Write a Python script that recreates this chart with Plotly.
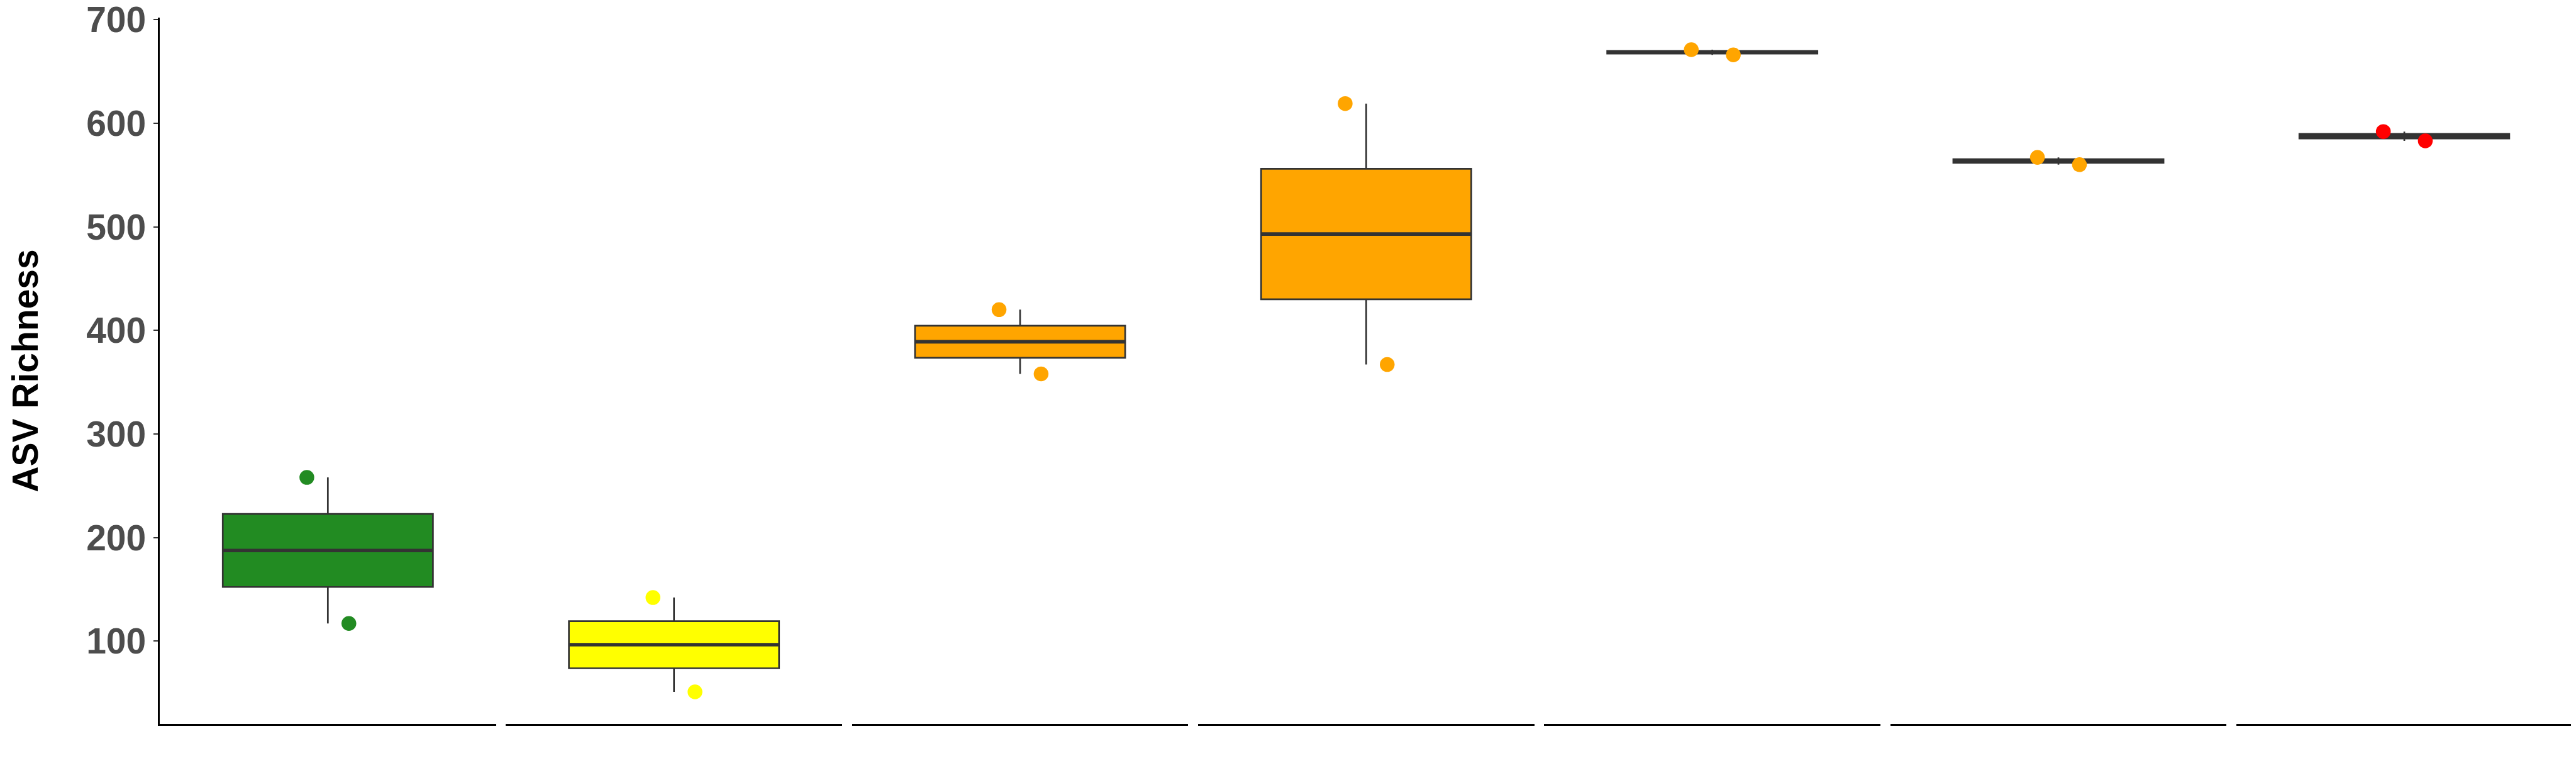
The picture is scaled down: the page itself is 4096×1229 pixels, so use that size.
import numpy as np
import plotly.graph_objects as go

# ---------------- data ----------------
groups = ["Group 1", "Group 2", "Group 3", "Group 4", "Group 5", "Group 6", "Group 7"]
richness_rep1 = [258, 142, 420, 619, 671, 567, 592]
richness_rep2 = [117, 51, 358, 367, 666, 560, 583]
group_colors = ["#228B22", "#FFFF00", "#FFA500", "#FFA500", "#FFA500", "#FFA500", "#FF0000"]
y_tick_values = [100, 200, 300, 400, 500, 600, 700]
y_tick_labels = ["100", "200", "300", "400", "500", "600", "700"]
y_title = "ASV Richness"

# ---------------- style / layout constants ----------------
W, H = 4096, 1229
S = 4096 / 6000.0
L_PX = 361 * S
R_PX = W - 5979 * S
T_PX = 22.3 * S + 4.5
B_PX = H - 1675 * S
PANEL_W = 783 * S
GAP = 23 * S
BOX_WIDTH = 0.75
DODGE = 0.075
X_RANGE = [-0.6, 0.6]
LINE_COL = "#333333"
FONT = "Liberation Sans, Arial, sans-serif"

plot_w = W - L_PX - R_PX

all_vals = np.array(richness_rep1 + richness_rep2, dtype=float)
vmin, vmax = all_vals.min(), all_vals.max()
pad = 0.05 * (vmax - vmin)
y_range = [vmin - pad, vmax + pad]

fig = go.Figure()

# boxes
for i, g in enumerate(groups):
    vals = np.array([richness_rep1[i], richness_rep2[i]], dtype=float)
    q1, med, q3 = np.percentile(vals, [25, 50, 75])
    iqr = q3 - q1
    lo = vals[vals >= q1 - 1.5 * iqr].min()
    hi = vals[vals <= q3 + 1.5 * iqr].max()
    xa = "x" if i == 0 else f"x{i+1}"
    fig.add_trace(go.Box(
        x=[0], q1=[q1], median=[med], q3=[q3], lowerfence=[lo], upperfence=[hi],
        width=BOX_WIDTH, whiskerwidth=0, boxpoints=False,
        fillcolor=group_colors[i], line=dict(color=LINE_COL, width=2.7),
        xaxis=xa, yaxis="y", name=g, showlegend=False, hoverinfo="skip",
    ))

# thicker median lines (ggplot fatten)
for i, g in enumerate(groups):
    vals = np.array([richness_rep1[i], richness_rep2[i]], dtype=float)
    med = float(np.median(vals))
    xa = "x" if i == 0 else f"x{i+1}"
    fig.add_trace(go.Scatter(
        x=[-BOX_WIDTH / 2, BOX_WIDTH / 2], y=[med, med], mode="lines",
        line=dict(color=LINE_COL, width=5.6),
        xaxis=xa, yaxis="y", showlegend=False, hoverinfo="skip",
    ))

# points (dodged replicates)
for i, g in enumerate(groups):
    xa = "x" if i == 0 else f"x{i+1}"
    fig.add_trace(go.Scatter(
        x=[-DODGE, DODGE], y=[richness_rep1[i], richness_rep2[i]], mode="markers",
        marker=dict(color=group_colors[i], size=23.5, line=dict(width=0)),
        xaxis=xa, yaxis="y", showlegend=False, name=g,
    ))

layout = dict(
    width=W, height=H,
    template=None,
    margin=dict(l=L_PX, r=R_PX, t=T_PX, b=B_PX, pad=0, autoexpand=False),
    paper_bgcolor="white", plot_bgcolor="white",
    showlegend=False,
    yaxis=dict(
        range=y_range, tickmode="array", tickvals=y_tick_values, ticktext=y_tick_labels,
        ticks="outside", ticklen=7.5, tickwidth=2.3, tickcolor=LINE_COL,
        showline=True, linewidth=2.7, linecolor="black", mirror=False,
        showgrid=False, zeroline=False, anchor="x", automargin=False,
        ticklabeloverflow="allow",
        tickfont=dict(family=FONT, size=57, color="#4D4D4D", weight="bold"),
        title=dict(text=y_title, standoff=70,
                   font=dict(family=FONT, size=57, color="black", weight="bold")),
    ),
)
for i in range(len(groups)):
    left = i * (PANEL_W + GAP) / plot_w
    right = (i * (PANEL_W + GAP) + PANEL_W) / plot_w
    key = "xaxis" if i == 0 else f"xaxis{i+1}"
    layout[key] = dict(
        domain=[max(0, left), min(1, right)], range=X_RANGE, anchor="y",
        showline=True, linewidth=2.9, linecolor="black", automargin=False,
        showticklabels=False, ticks="", showgrid=False, zeroline=False,
    )
fig.update_layout(**layout)

fig.write_html("out.html")
